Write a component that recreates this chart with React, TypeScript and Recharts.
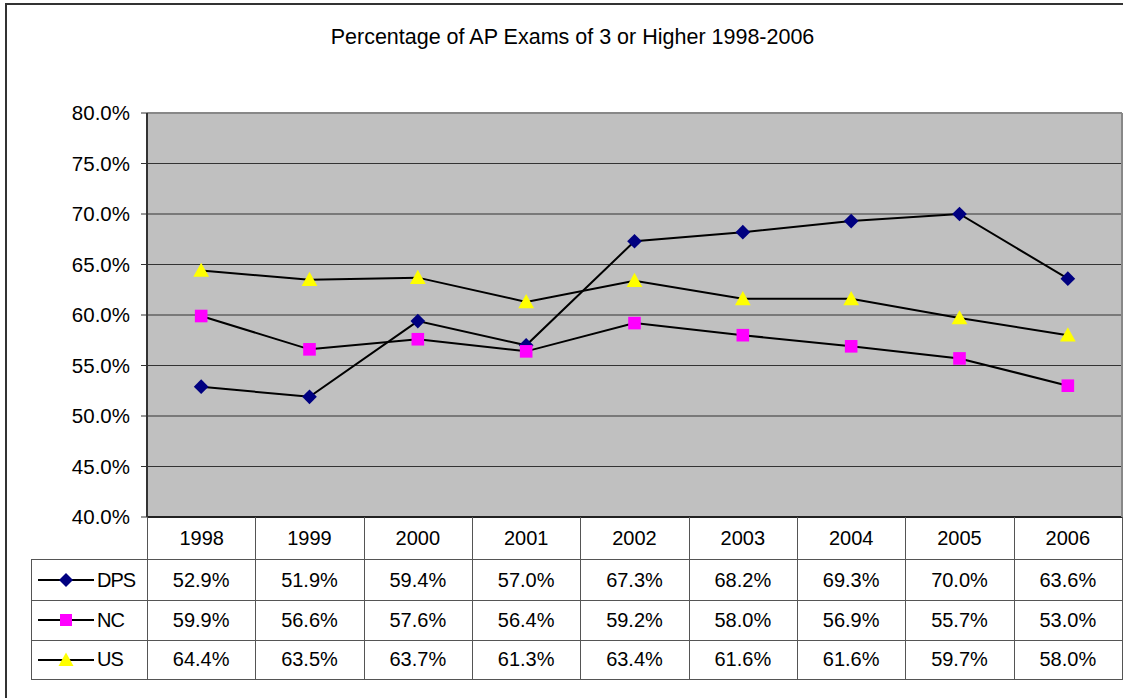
import React from 'react';
import { LineChart, Line, XAxis, YAxis, CartesianGrid, ReferenceLine } from 'recharts';

const years = ['1998', '1999', '2000', '2001', '2002', '2003', '2004', '2005', '2006'];
const dps = [52.9, 51.9, 59.4, 57.0, 67.3, 68.2, 69.3, 70.0, 63.6];
const nc = [59.9, 56.6, 57.6, 56.4, 59.2, 58.0, 56.9, 55.7, 53.0];
const us = [64.4, 63.5, 63.7, 61.3, 63.4, 61.6, 61.6, 59.7, 58.0];
const yTicks = [40, 45, 50, 55, 60, 65, 70, 75, 80];

const data = years.map((year, i) => ({ year, DPS: dps[i], NC: nc[i], US: us[i] }));

const series = [
  { key: 'DPS', values: dps, marker: 'diamond', color: '#000080' },
  { key: 'NC', values: nc, marker: 'square', color: '#FF00FF' },
  { key: 'US', values: us, marker: 'triangle', color: '#FFFF00' },
];

const FONT = '"Liberation Sans", Arial, sans-serif';
const W = 1123;
const H = 698;
const PLOT_L = 147;
const PLOT_T = 113;
const PLOT_R = 1122;
const PLOT_B = 517;
const COL_W = (PLOT_R - PLOT_L) / years.length;
const LINE = '#555';

function Marker({ kind, color, size = 1 }: { kind: string; color: string; size?: number }) {
  if (kind === 'diamond') return <polygon points={`0,${-7 * size} ${7 * size},0 0,${7 * size} ${-7 * size},0`} fill={color} />;
  if (kind === 'square') return <rect x={-6 * size} y={-6 * size} width={12 * size} height={12 * size} fill={color} />;
  return <polygon points={`0,${-7.5 * size} ${7.5 * size},${6 * size} ${-7.5 * size},${6 * size}`} fill={color} />;
}

const makeDot = (kind: string, color: string) => (props: any) => {
  const { cx, cy, index } = props;
  if (cx == null || cy == null) return <g key={index} />;
  return (
    <g key={`${kind}-${index}`} transform={`translate(${cx},${cy})`}>
      <Marker kind={kind} color={color} size={1.05} />
    </g>
  );
};

function DataTable() {
  const cell: React.CSSProperties = {
    position: 'absolute', display: 'flex', alignItems: 'center', justifyContent: 'center',
    boxSizing: 'border-box', borderRight: `1px solid ${LINE}`, borderBottom: `1px solid ${LINE}`,
    fontFamily: FONT, fontSize: 20, color: '#000',
  };
  const rowTops = [559, 600, 640];
  const rowH = [41, 40, 39];
  return (
    <>
      {years.map((y, i) => (
        <div key={y} style={{ ...cell, left: PLOT_L + i * COL_W, top: PLOT_B, width: COL_W + 1, height: 43, borderLeft: i === 0 ? `1px solid ${LINE}` : undefined }}>{y}</div>
      ))}
      {series.map((s, r) => (
        <React.Fragment key={s.key}>
          <div style={{ ...cell, left: 31, top: rowTops[r], width: PLOT_L - 31 + 1, height: rowH[r] + 1, borderLeft: `1px solid ${LINE}`, borderTop: r === 0 ? `1px solid ${LINE}` : undefined, justifyContent: 'flex-start', paddingLeft: 6 }}>
            <svg width={56} height={20} style={{ marginRight: 3 }}>
              <line x1={0} y1={10} x2={56} y2={10} stroke="#000" strokeWidth={2} />
              <g transform="translate(28,10)"><Marker kind={s.marker} color={s.color} size={1} /></g>
            </svg>
            <span style={{ letterSpacing: -1 }}>{s.key}</span>
          </div>
          {s.values.map((v, i) => (
            <div key={i} style={{ ...cell, left: PLOT_L + i * COL_W, top: rowTops[r], width: COL_W + 1, height: rowH[r] + 1, borderTop: r === 0 ? `1px solid ${LINE}` : undefined }}>
              {v.toFixed(1)}%
            </div>
          ))}
        </React.Fragment>
      ))}
    </>
  );
}

export default function App() {
  return (
    <div style={{ position: 'absolute', left: 0, top: 0, width: W, height: H, background: '#fff', overflow: 'hidden' }}>
      <div style={{ position: 'absolute', left: 5, top: 3, width: 1200, height: 800, border: '2px solid #333' }} />
      <div style={{ position: 'absolute', left: 0, top: 25, width: 1145, textAlign: 'center', fontFamily: FONT, fontSize: 21.5, color: '#000' }}>
        Percentage of AP Exams of 3 or Higher 1998-2006
      </div>
      <div style={{ position: 'absolute', left: 0, top: 0 }}>
        <LineChart width={W} height={H} data={data} margin={{ top: PLOT_T, right: W - PLOT_R, bottom: H - PLOT_B, left: 0 }}>
          <CartesianGrid vertical={false} stroke="#333" fill="#C0C0C0" fillOpacity={1} />
          <XAxis dataKey="year" scale="band" hide />
          <YAxis
            width={PLOT_L}
            domain={[40, 80]}
            ticks={yTicks}
            tickFormatter={(v: number) => `${v.toFixed(1)}%`}
            tick={{ fill: '#000', fontSize: 20.5, fontFamily: FONT }}
            tickSize={6}
            tickMargin={11}
            axisLine={{ stroke: '#333', strokeWidth: 2 }}
            tickLine={{ stroke: '#333' }}
            interval={0}
          />
          <ReferenceLine y={80} stroke="#888" strokeWidth={2} />
          <ReferenceLine y={40} stroke="#222" strokeWidth={2} />
          {series.map(s => (
            <Line
              key={s.key}
              dataKey={s.key}
              type="linear"
              stroke="#000"
              strokeWidth={2}
              dot={makeDot(s.marker, s.color)}
              activeDot={false}
              isAnimationActive={false}
            />
          ))}
        </LineChart>
      </div>
      <div style={{ position: 'absolute', left: PLOT_R - 1, top: PLOT_T, width: 2, height: PLOT_B - PLOT_T, background: '#888' }} />
      <DataTable />
    </div>
  );
}
